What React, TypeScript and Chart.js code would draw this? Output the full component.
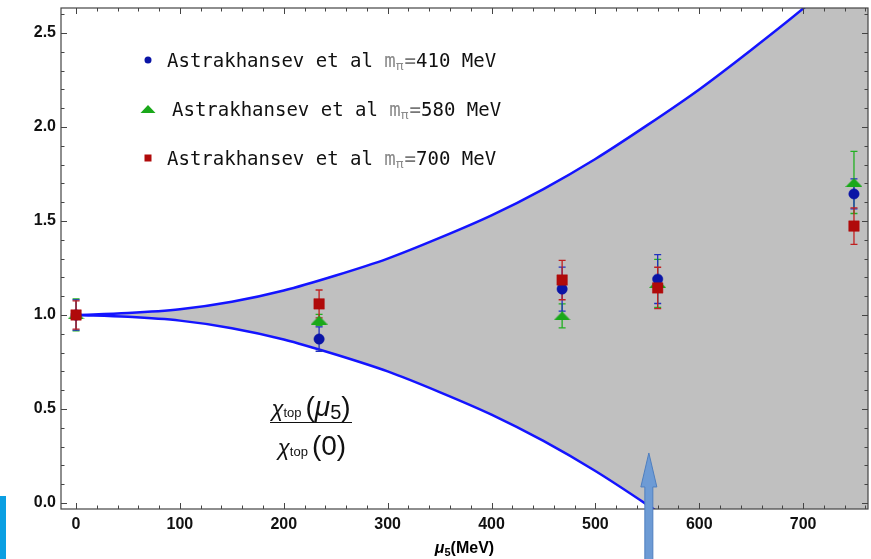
import React, { useEffect, useRef } from 'react';
import { Chart, registerables } from 'chart.js';
Chart.register(...registerables);

// ---- data ----
const xTicks = [0, 100, 200, 300, 400, 500, 600, 700];
const yTicks = [0, 0.5, 1.0, 1.5, 2.0, 2.5];
const xMinorStep = 20;
const yMinorStep = 0.1;

const bandMu = [0, 50, 100, 150, 200, 250, 300, 350, 400, 450, 500, 550, 600, 650, 700, 750, 800];
const bandUpper = [1.0, 1.01, 1.03, 1.07, 1.13, 1.21, 1.3, 1.41, 1.53, 1.67, 1.83, 2.01, 2.2, 2.41, 2.63, 2.87, 3.13];
const bandLower = [1.0, 0.99, 0.97, 0.93, 0.87, 0.79, 0.7, 0.59, 0.47, 0.33, 0.17, -0.01, -0.2, -0.41, -0.63, -0.87, -1.13];

const muPoints = [0, 234, 468, 560, 749];
const chi410 = [1.0, 0.872, 1.138, 1.191, 1.644];
const err410 = [0.08, 0.065, 0.117, 0.13, 0.08];
const chi580 = [1.0, 0.973, 0.995, 1.168, 1.705];
const err580 = [0.085, 0.03, 0.064, 0.128, 0.165];
const chi700 = [1.0, 1.059, 1.186, 1.144, 1.473];
const err700 = [0.075, 0.074, 0.105, 0.11, 0.097];

const legendName = 'Astrakhansev et al ';
const legendMasses = ['410', '580', '700'];

const arrowMu = 551.5;
const arrowTipValue = 0.266;

const BLUE = '#0a14a6';
const GREEN = '#1aa81a';
const RED = '#b00a0a';
const SANS = '"Liberation Sans", Arial, sans-serif';
const MONO = '"DejaVu Sans Mono", monospace';

function makeTriangle(w: number, h: number, color: string) {
  const c = document.createElement('canvas');
  c.width = w;
  c.height = h;
  const g = c.getContext('2d')!;
  g.fillStyle = color;
  g.beginPath();
  g.moveTo(0, h);
  g.lineTo(w, h);
  g.lineTo(w / 2, 0);
  g.closePath();
  g.fill();
  return c;
}

export default function App() {
  const ref = useRef<HTMLCanvasElement | null>(null);
  useEffect(() => {
    document.body.style.margin = '0';
    const canvas = ref.current!;
    const tri = makeTriangle(17, 9, GREEN);

    const series = [
      { vals: chi580, err: err580, color: '#22b022' },
      { vals: chi410, err: err410, color: '#2030c0' },
      { vals: chi700, err: err700, color: '#c02020' },
    ];

    const decor = {
      id: 'decor',
      afterDatasetDraw(chart: any, args: any) {
        if (args.index !== 1) return;
        const xs = chart.scales.x, ys = chart.scales.y, ctx = chart.ctx;
        const a = chart.chartArea;
        ctx.save();
        ctx.beginPath();
        ctx.rect(a.left, a.top, a.right - a.left, a.bottom - a.top);
        ctx.clip();
        ctx.lineWidth = 1.3;
        series.forEach((s) => {
          ctx.strokeStyle = s.color;
          muPoints.forEach((m, i) => {
            const px = xs.getPixelForValue(m);
            const t = ys.getPixelForValue(s.vals[i] + s.err[i]);
            const b = ys.getPixelForValue(s.vals[i] - s.err[i]);
            ctx.beginPath();
            ctx.moveTo(px, t);
            ctx.lineTo(px, b);
            ctx.moveTo(px - 3.5, t);
            ctx.lineTo(px + 3.5, t);
            ctx.moveTo(px - 3.5, b);
            ctx.lineTo(px + 3.5, b);
            ctx.stroke();
          });
        });
        ctx.restore();
      },
      afterDraw(chart: any) {
        const xs = chart.scales.x, ys = chart.scales.y, ctx = chart.ctx;
        const a = chart.chartArea;
        ctx.save();
        // frame
        ctx.strokeStyle = '#444';
        ctx.lineWidth = 1.2;
        ctx.strokeRect(a.left, a.top, a.right - a.left, a.bottom - a.top);
        // ticks
        ctx.beginPath();
        for (let k = Math.ceil(xs.min / xMinorStep); k * xMinorStep <= xs.max; k++) {
          const v = k * xMinorStep;
          const major = xTicks.includes(v);
          const len = major ? 6 : 3.5;
          const px = Math.round(xs.getPixelForValue(v)) + 0.5;
          ctx.moveTo(px, a.bottom);
          ctx.lineTo(px, a.bottom - len);
          ctx.moveTo(px, a.top);
          ctx.lineTo(px, a.top + len);
        }
        for (let k = Math.ceil(ys.min / yMinorStep); k * yMinorStep <= ys.max + 1e-9; k++) {
          const v = Math.round(k * yMinorStep * 10) / 10;
          const major = yTicks.some((t) => Math.abs(t - v) < 1e-9);
          const len = major ? 6 : 3.5;
          const py = Math.round(ys.getPixelForValue(v)) + 0.5;
          ctx.moveTo(a.left, py);
          ctx.lineTo(a.left + len, py);
          ctx.moveTo(a.right, py);
          ctx.lineTo(a.right - len, py);
        }
        ctx.lineWidth = 1;
        ctx.stroke();

        // legend
        const rows = [
          { y: 60, tx: 167, mass: legendMasses[0], kind: 'circle' },
          { y: 109, tx: 172, mass: legendMasses[1], kind: 'tri' },
          { y: 158, tx: 167, mass: legendMasses[2], kind: 'rect' },
        ];
        rows.forEach((r) => {
          const mx = 148;
          if (r.kind === 'circle') {
            ctx.fillStyle = BLUE;
            ctx.beginPath();
            ctx.arc(mx, r.y, 3.5, 0, Math.PI * 2);
            ctx.fill();
          } else if (r.kind === 'tri') {
            ctx.fillStyle = GREEN;
            ctx.beginPath();
            ctx.moveTo(mx - 7.5, r.y + 4);
            ctx.lineTo(mx + 7.5, r.y + 4);
            ctx.lineTo(mx, r.y - 4);
            ctx.closePath();
            ctx.fill();
          } else {
            ctx.fillStyle = RED;
            ctx.fillRect(mx - 3.5, r.y - 3.5, 7, 7);
          }
          const base = r.y + 6.5;
          ctx.textBaseline = 'alphabetic';
          ctx.textAlign = 'left';
          ctx.font = '19px ' + MONO;
          ctx.fillStyle = '#111';
          let x = r.tx;
          ctx.fillText(legendName, x, base);
          x += ctx.measureText(legendName).width;
          ctx.fillStyle = '#8a8a8a';
          ctx.fillText('m', x, base);
          x += ctx.measureText('m').width;
          ctx.font = '13px ' + MONO;
          ctx.fillText('π', x, base + 3);
          x += ctx.measureText('π').width + 1;
          ctx.font = '19px ' + MONO;
          ctx.fillStyle = '#777';
          ctx.fillText('=', x, base);
          x += ctx.measureText('=').width;
          ctx.fillStyle = '#111';
          ctx.fillText(r.mass + ' MeV', x, base);
        });

        // formula label
        const drawRatioPart = (cx: number, base: number, withMu: boolean) => {
          const parts: { t: string; f: string; dy: number; gap?: number }[] = [
            { t: 'χ', f: 'italic 22px ' + SANS, dy: 0 },
            { t: 'top', f: '13px ' + SANS, dy: 1, gap: 4 },
            { t: '(', f: '28px ' + SANS, dy: 0 },
          ];
          if (withMu) {
            parts.push({ t: 'μ', f: 'italic 28px ' + SANS, dy: 0 });
            parts.push({ t: '5', f: '20px ' + SANS, dy: 3 });
          } else {
            parts.push({ t: '0', f: '28px ' + SANS, dy: 0 });
          }
          parts.push({ t: ')', f: '28px ' + SANS, dy: 0 });
          let w = 0;
          parts.forEach((p) => {
            ctx.font = p.f;
            w += ctx.measureText(p.t).width + (p.gap || 0);
          });
          let x = cx - w / 2;
          ctx.fillStyle = '#111';
          parts.forEach((p) => {
            ctx.font = p.f;
            ctx.fillText(p.t, x, base + p.dy);
            x += ctx.measureText(p.t).width + (p.gap || 0);
          });
        };
        drawRatioPart(311, 416, true);
        drawRatioPart(312, 455, false);
        ctx.strokeStyle = '#111';
        ctx.lineWidth = 1.2;
        ctx.beginPath();
        ctx.moveTo(270, 422.5);
        ctx.lineTo(352, 422.5);
        ctx.stroke();

        // x axis title
        {
          const parts = [
            { t: 'μ', f: 'italic bold 16px ' + SANS, dy: 0 },
            { t: '5', f: 'bold 11px ' + SANS, dy: 3 },
            { t: '(MeV)', f: 'bold 16px ' + SANS, dy: 0 },
          ];
          let w = 0;
          parts.forEach((p) => {
            ctx.font = p.f;
            w += ctx.measureText(p.t).width;
          });
          let x = (a.left + a.right) / 2 - w / 2;
          ctx.fillStyle = '#000';
          parts.forEach((p) => {
            ctx.font = p.f;
            ctx.fillText(p.t, x, 553 + p.dy);
            x += ctx.measureText(p.t).width;
          });
        }

        // arrow
        {
          const px = xs.getPixelForValue(arrowMu);
          const tip = ys.getPixelForValue(arrowTipValue);
          const headBase = tip + 34;
          ctx.fillStyle = '#6d9bd5';
          ctx.strokeStyle = '#4f7fbf';
          ctx.lineWidth = 1;
          ctx.beginPath();
          ctx.moveTo(px, tip);
          ctx.lineTo(px + 8, headBase);
          ctx.lineTo(px + 4, headBase);
          ctx.lineTo(px + 4, chart.height + 2);
          ctx.lineTo(px - 4, chart.height + 2);
          ctx.lineTo(px - 4, headBase);
          ctx.lineTo(px - 8, headBase);
          ctx.closePath();
          ctx.fill();
          ctx.stroke();
        }

        // corner bar
        ctx.fillStyle = '#0b9fe2';
        ctx.fillRect(0, 496, 6, chart.height - 496);
        ctx.restore();
      },
    };

    const tickFont = { family: SANS, size: 16, weight: 'bold' as const };

    const chart = new Chart(canvas, {
      type: 'line',
      data: {
        datasets: [
          {
            label: 'upper',
            data: bandMu.map((m, i) => ({ x: m, y: bandUpper[i] })),
            borderColor: '#1414ff',
            borderWidth: 2.5,
            pointRadius: 0,
            cubicInterpolationMode: 'monotone',
            fill: '+1',
            backgroundColor: '#c0c0c0',
            order: 10,
          },
          {
            label: 'lower',
            data: bandMu.map((m, i) => ({ x: m, y: bandLower[i] })),
            borderColor: '#1414ff',
            borderWidth: 2.5,
            pointRadius: 0,
            cubicInterpolationMode: 'monotone',
            fill: false,
            order: 9,
          },
          {
            label: 'm580',
            data: muPoints.map((m, i) => ({ x: m, y: chi580[i] })),
            showLine: false,
            pointStyle: tri as any,
            pointRadius: 6,
            order: 3,
          },
          {
            label: 'm410',
            data: muPoints.map((m, i) => ({ x: m, y: chi410[i] })),
            showLine: false,
            pointStyle: 'circle',
            pointRadius: 5.2,
            pointBackgroundColor: BLUE,
            pointBorderColor: BLUE,
            pointBorderWidth: 0.5,
            order: 2,
          },
          {
            label: 'm700',
            data: muPoints.map((m, i) => ({ x: m, y: chi700[i] })),
            showLine: false,
            pointStyle: 'rect',
            pointRadius: 7.4,
            pointBackgroundColor: RED,
            pointBorderColor: RED,
            pointBorderWidth: 0.5,
            order: 1,
          },
        ] as any,
      },
      options: {
        animation: false,
        responsive: false,
        maintainAspectRatio: false,
        layout: { autoPadding: false, padding: { top: 8, right: 3, left: 0, bottom: 0 } },
        plugins: { legend: { display: false }, tooltip: { enabled: false } },
        scales: {
          x: {
            type: 'linear',
            min: -14.5,
            max: 762.5,
            afterBuildTicks: (s: any) => {
              s.ticks = xTicks.map((v) => ({ value: v }));
            },
            afterFit: (s: any) => {
              s.height = 50;
              s.paddingLeft = 0;
              s.paddingRight = 0;
              s.paddingTop = 0;
              s.paddingBottom = 0;
            },
            grid: { display: false, drawTicks: false },
            border: { display: false },
            ticks: {
              font: tickFont,
              color: '#111',
              padding: 6,
              maxRotation: 0,
              autoSkip: false,
              callback: (v: any) => String(v),
            },
          },
          y: {
            type: 'linear',
            min: -0.032,
            max: 2.633,
            afterBuildTicks: (s: any) => {
              s.ticks = yTicks.map((v) => ({ value: v }));
            },
            afterFit: (s: any) => {
              s.width = 61;
              s.paddingLeft = 0;
              s.paddingRight = 0;
              s.paddingTop = 0;
              s.paddingBottom = 0;
            },
            grid: { display: false, drawTicks: false },
            border: { display: false },
            ticks: {
              font: tickFont,
              color: '#111',
              padding: 5,
              autoSkip: false,
              callback: (v: any) => Number(v).toFixed(1),
            },
          },
        },
      } as any,
      plugins: [decor],
    });
    return () => chart.destroy();
  }, []);
  return <canvas ref={ref} width={871} height={559} style={{ display: 'block' }} />;
}
